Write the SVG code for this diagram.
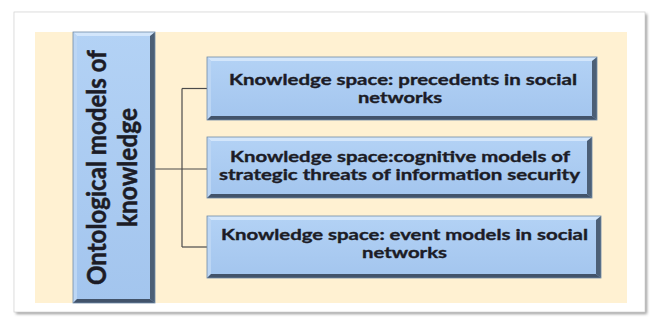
<svg xmlns="http://www.w3.org/2000/svg" width="650" height="321" viewBox="0 0 650 321">
  <defs>
    <filter id="frameShadow" x="-5%" y="-5%" width="110%" height="110%">
      <feGaussianBlur stdDeviation="1.6"/>
    </filter>
    <linearGradient id="boxFill" x1="0" y1="0" x2="0" y2="1">
      <stop offset="0" stop-color="#b3d2f5"/>
      <stop offset="1" stop-color="#a3c5ee"/>
    </linearGradient>
  </defs>
  <style>
    .panel { fill: #fff1d2; }
    .face { fill: url(#boxFill); }
    .edge-top { fill: #d3e6fb; }
    .edge-left { fill: #bcd6f4; }
    .edge-right { fill: #4c5f76; }
    .edge-bottom { fill: #42536a; }
    .outline { fill: none; stroke: #6f8aa8; stroke-width: 0.8; }
    .wire { fill: none; stroke: #4b4b4b; stroke-width: 1.2; }
    .lbl { font-family: Lato, "Open Sans", "DejaVu Sans", sans-serif; font-weight: 700; fill: #1c1c26; stroke: #1c1c26; stroke-width: 0.35; text-anchor: middle; }
    .small { font-size: 14.5px; }
    .big { font-size: 26px; stroke-width: 0.5; }
  </style>

  <!-- page frame with soft shadow -->
  <rect x="16" y="14" width="631" height="300" fill="#9a9a9a" filter="url(#frameShadow)"/>
  <rect x="14" y="12" width="631" height="300" fill="#ffffff" stroke="#d6d6d6" stroke-width="0.8"/>

  <!-- cream background panel -->
  <rect class="panel" x="35" y="32" width="592" height="271"/>

  <!-- connectors -->
  <g id="connectors">
    <path class="wire" d="M155,169 H207"/>
    <path class="wire" d="M182,88.5 V247"/>
    <path class="wire" d="M182,88.5 H207"/>
    <path class="wire" d="M182,247 H207"/>
  </g>

  <!-- root node -->
  <g id="root">
    <rect class="face" x="73" y="32" width="82" height="271"/>
    <polygon class="edge-top" points="73,32 155,32 151,36 77,36"/>
    <polygon class="edge-left" points="73,32 77,36 77,299 73,303"/>
    <polygon class="edge-right" points="155,32 155,303 150,299 150,36"/>
    <polygon class="edge-bottom" points="73,303 77,299 150,299 155,303"/>
    <rect class="outline" x="73" y="32" width="82" height="271"/>
    <text class="lbl big" transform="translate(106,167.5) rotate(-90)" textLength="235" lengthAdjust="spacingAndGlyphs">Ontological models of</text>
    <text class="lbl big" transform="translate(137,167.5) rotate(-90)" textLength="119" lengthAdjust="spacingAndGlyphs">knowledge</text>
  </g>

  <!-- child node: precedents -->
  <g id="precedents">
    <rect class="face" x="207" y="57" width="390" height="63"/>
    <polygon class="edge-top" points="207,57 597,57 592,61 211,61"/>
    <polygon class="edge-left" points="207,57 211,61 211,116 207,120"/>
    <polygon class="edge-right" points="597,57 597,120 592,116 592,61"/>
    <polygon class="edge-bottom" points="207,120 211,116 592,116 597,120"/>
    <rect class="outline" x="207" y="57" width="390" height="63"/>
    <text class="lbl small" x="403" y="85" textLength="348" lengthAdjust="spacingAndGlyphs">Knowledge space: precedents in social</text>
    <text class="lbl small" x="400" y="103" textLength="84" lengthAdjust="spacingAndGlyphs">networks</text>
  </g>

  <!-- child node: cognitive models -->
  <g id="cognitive">
    <rect class="face" x="207" y="137" width="385" height="61"/>
    <polygon class="edge-top" points="207,137 592,137 587,141 211,141"/>
    <polygon class="edge-left" points="207,137 211,141 211,194 207,198"/>
    <polygon class="edge-right" points="592,137 592,198 587,194 587,141"/>
    <polygon class="edge-bottom" points="207,198 211,194 587,194 592,198"/>
    <rect class="outline" x="207" y="137" width="385" height="61"/>
    <text class="lbl small" x="400" y="162" textLength="340" lengthAdjust="spacingAndGlyphs">Knowledge space:cognitive models of</text>
    <text class="lbl small" x="399.5" y="180" textLength="361" lengthAdjust="spacingAndGlyphs">strategic threats of information security</text>
  </g>

  <!-- child node: event models -->
  <g id="events">
    <rect class="face" x="207" y="216" width="394" height="62"/>
    <polygon class="edge-top" points="207,216 601,216 596,220 211,220"/>
    <polygon class="edge-left" points="207,216 211,220 211,274 207,278"/>
    <polygon class="edge-right" points="601,216 601,278 596,274 596,220"/>
    <polygon class="edge-bottom" points="207,278 211,274 596,274 601,278"/>
    <rect class="outline" x="207" y="216" width="394" height="62"/>
    <text class="lbl small" x="404.5" y="240" textLength="367" lengthAdjust="spacingAndGlyphs">Knowledge space: event models in social</text>
    <text class="lbl small" x="404.5" y="258" textLength="85" lengthAdjust="spacingAndGlyphs">networks</text>
  </g>
</svg>
